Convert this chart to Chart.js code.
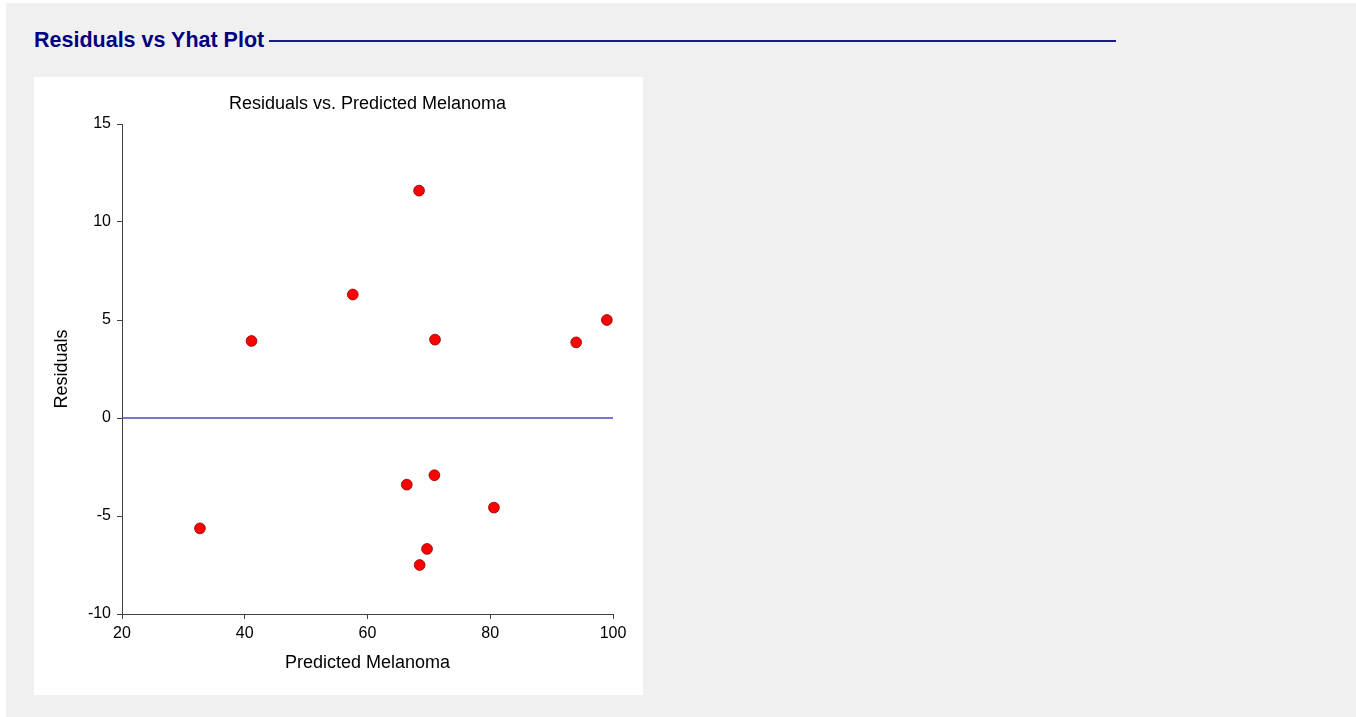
<!DOCTYPE html>
<html>
<head>
<meta charset="utf-8">
<script src="https://cdn.jsdelivr.net/npm/chart.js@4/dist/chart.umd.min.js"></script>
<style>
  html, body { margin: 0; padding: 0; background: #ffffff; }
  body { width: 1356px; height: 717px; position: relative; overflow: hidden; font-family: "Liberation Sans", Arial, sans-serif; }
  #page { position: absolute; left: 6px; top: 3px; width: 1350px; height: 714px; background: #f0f0f0; }
  #heading { position: absolute; left: 28px; top: 25px; display: flex; align-items: center; width: 1082px; }
  #heading span { font-weight: bold; font-size: 21.5px; color: #000080; white-space: nowrap; }
  #heading .rule { flex: 1; height: 2px; background: #1a1a8c; margin-left: 5px; margin-top: 1px; }
  #panel { position: absolute; left: 28px; top: 74px; width: 609px; height: 618px; background: #ffffff; }
  #panel canvas { display: block; }
</style>
</head>
<body>
<div id="page">
  <div id="heading"><span>Residuals vs Yhat Plot</span><div class="rule"></div></div>
  <div id="panel"><canvas id="chart" width="609" height="618"></canvas></div>
</div>
<script>
// Predicted values (x) and residuals (y) for each observation
const predicted = [68.4, 57.6, 41.1, 71.0, 94.0, 99.0, 66.4, 70.9, 80.6, 32.7, 69.7, 68.5];
const residuals = [11.6, 6.3, 3.93, 4.0, 3.86, 5.0, -3.4, -2.92, -4.57, -5.63, -6.68, -7.5];

// Axis ranges and tick labels
const xTicks = [20, 40, 60, 80, 100];
const yTicks = [-10, -5, 0, 5, 10, 15];
// Reference line at zero residual
const zeroLineX = [20, 100];
const zeroLineY = [0, 0];

const points = predicted.map((x, i) => ({ x: x, y: residuals[i] }));
const zeroLine = zeroLineX.map((x, i) => ({ x: x, y: zeroLineY[i] }));

const axisColor = '#404040';
const font = 'Liberation Sans';

new Chart(document.getElementById('chart'), {
  type: 'scatter',
  data: {
    datasets: [
      {
        type: 'line',
        data: zeroLine,
        borderColor: '#4a4abf',
        borderWidth: 1.5,
        pointRadius: 0,
        fill: false,
        order: 2
      },
      {
        data: points,
        backgroundColor: '#ff0000',
        borderColor: '#8a0000',
        borderWidth: 0.8,
        pointRadius: 5.4,
        order: 1
      }
    ]
  },
  options: {
    responsive: false,
    animation: false,
    layout: { padding: { left: 0, right: 30, top: 0, bottom: 0 } },
    plugins: {
      legend: { display: false },
      tooltip: { enabled: false },
      title: {
        display: true,
        fullSize: false,
        text: 'Residuals vs. Predicted Melanoma',
        color: '#000000',
        font: { family: font, size: 18, weight: 'normal', lineHeight: 1.2 },
        padding: { top: 16, bottom: 9.4 }
      }
    },
    scales: {
      x: {
        type: 'linear',
        min: xTicks[0],
        max: xTicks[xTicks.length - 1],
        afterBuildTicks: (s) => { s.ticks = xTicks.map(v => ({ value: v })); },
        afterFit: (s) => { s.height = 81; },
        grid: { display: true, drawOnChartArea: false, drawTicks: true, tickLength: 5, color: axisColor },
        border: { display: true, color: axisColor, width: 1 },
        ticks: { color: '#000000', font: { family: font, size: 16 }, padding: 5, maxRotation: 0 },
        title: {
          display: true,
          text: 'Predicted Melanoma',
          color: '#000000',
          font: { family: font, size: 18, lineHeight: 1.2 },
          padding: { top: 0, bottom: 21 }
        }
      },
      y: {
        type: 'linear',
        min: yTicks[0],
        max: yTicks[yTicks.length - 1],
        afterBuildTicks: (s) => { s.ticks = yTicks.map(v => ({ value: v })); },
        afterFit: (s) => { s.width = 88; },
        grid: { display: true, drawOnChartArea: false, drawTicks: true, tickLength: 5, color: axisColor },
        border: { display: true, color: axisColor, width: 1 },
        ticks: { color: '#000000', font: { family: font, size: 16 }, padding: 6 },
        title: {
          display: true,
          text: 'Residuals',
          color: '#000000',
          font: { family: font, size: 18, lineHeight: 1.2 },
          padding: { top: 17, bottom: 0 }
        }
      }
    }
  }
});
</script>
</body>
</html>
